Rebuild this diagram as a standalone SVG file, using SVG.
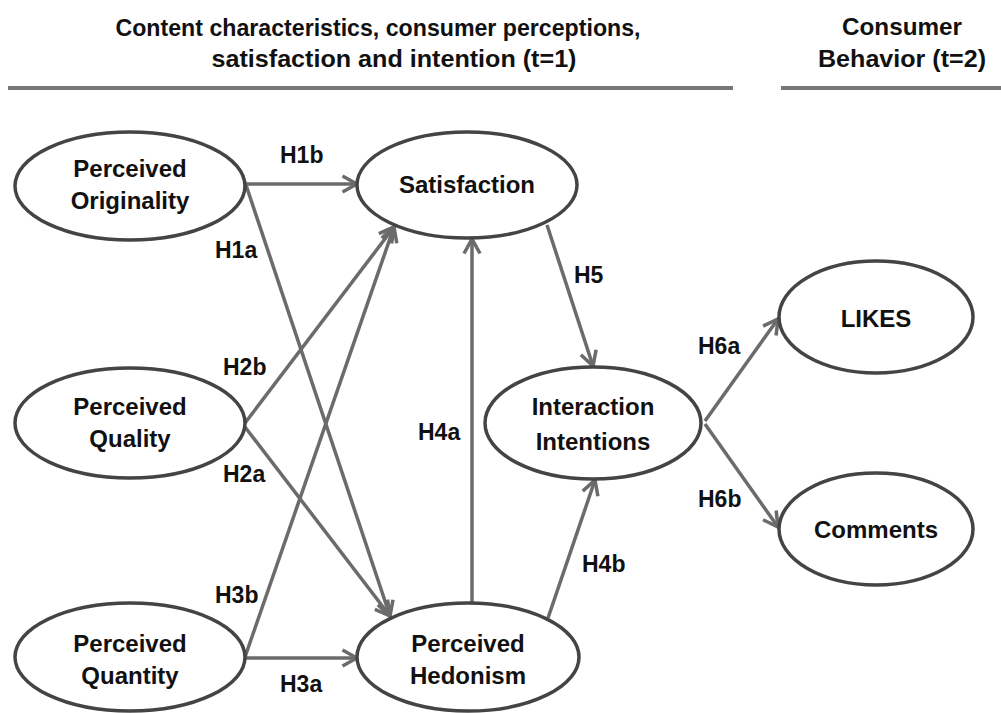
<svg xmlns="http://www.w3.org/2000/svg" width="1001" height="713" viewBox="0 0 1001 713">
<style>
text{font-family:"Liberation Sans",Arial,sans-serif;font-weight:bold;fill:#111}
.hd{font-size:24px;text-anchor:middle}
.nd{font-size:24px;text-anchor:middle}
.lb{font-size:23px}
ellipse{fill:#fff;stroke:#444;stroke-width:3.5}
.c{stroke:#6b6b6b;stroke-width:3.5;fill:none;marker-end:url(#ah)}
.rule{stroke:#777;stroke-width:4}
</style>
<defs>
<marker id="ah" markerUnits="userSpaceOnUse" markerWidth="22" markerHeight="22" viewBox="0 0 22 22" refX="19" refY="11" orient="auto">
<path d="M4.5,3 L19,11 L4.5,19" fill="none" stroke="#6b6b6b" stroke-width="3.5" stroke-linejoin="miter"/>
</marker>
</defs>
<rect width="1001" height="713" fill="#fff"/>
<g id="header">
<text class="hd" x="378" y="36" textLength="525" lengthAdjust="spacingAndGlyphs">Content characteristics, consumer  perceptions,</text>
<text class="hd" x="394" y="67" textLength="365" lengthAdjust="spacingAndGlyphs">satisfaction and intention (t=1)</text>
<text class="hd" x="902" y="35" textLength="120" lengthAdjust="spacingAndGlyphs">Consumer</text>
<text class="hd" x="902" y="67" textLength="168" lengthAdjust="spacingAndGlyphs">Behavior (t=2)</text>
<line class="rule" x1="8" y1="88" x2="733" y2="88"/>
<line class="rule" x1="781" y1="88" x2="1001" y2="88"/>
</g>
<g id="connectors">
<line class="c" x1="246" y1="184" x2="357" y2="184"/>
<line class="c" x1="246" y1="185" x2="390" y2="616"/>
<line class="c" x1="245" y1="427" x2="390" y2="616"/>
<line class="c" x1="245" y1="423" x2="394" y2="227"/>
<line class="c" x1="245" y1="657" x2="394" y2="227"/>
<line class="c" x1="245" y1="658" x2="357" y2="658"/>
<line class="c" x1="472" y1="603" x2="472" y2="239"/>
<line class="c" x1="547" y1="225" x2="593" y2="366"/>
<line class="c" x1="548" y1="618" x2="595" y2="480"/>
<line class="c" x1="705" y1="421" x2="778" y2="319"/>
<line class="c" x1="705" y1="424" x2="778" y2="527"/>
</g>
<g id="labels">
<text class="lb" x="280" y="163">H1b</text>
<text class="lb" x="215" y="258">H1a</text>
<text class="lb" x="223" y="375">H2b</text>
<text class="lb" x="223" y="482">H2a</text>
<text class="lb" x="215" y="603">H3b</text>
<text class="lb" x="280" y="692">H3a</text>
<text class="lb" x="418" y="440">H4a</text>
<text class="lb" x="574" y="283">H5</text>
<text class="lb" x="582" y="572">H4b</text>
<text class="lb" x="698" y="354">H6a</text>
<text class="lb" x="698" y="507">H6b</text>
</g>
<g id="n-originality">
<ellipse cx="130" cy="186" rx="115" ry="54"/>
<text class="nd" x="130" y="177">Perceived</text>
<text class="nd" x="130" y="209">Originality</text>
</g>
<g id="n-quality">
<ellipse cx="130" cy="423" rx="115" ry="55"/>
<text class="nd" x="130" y="415">Perceived</text>
<text class="nd" x="130" y="447">Quality</text>
</g>
<g id="n-quantity">
<ellipse cx="130" cy="657" rx="115" ry="54"/>
<text class="nd" x="130" y="652">Perceived</text>
<text class="nd" x="130" y="684">Quantity</text>
</g>
<g id="n-satisfaction">
<ellipse cx="467" cy="185" rx="110" ry="53"/>
<text class="nd" x="467" y="193">Satisfaction</text>
</g>
<g id="n-hedonism">
<ellipse cx="468" cy="657" rx="111" ry="54"/>
<text class="nd" x="468" y="652">Perceived</text>
<text class="nd" x="468" y="684">Hedonism</text>
</g>
<g id="n-interaction">
<ellipse cx="593" cy="423" rx="108" ry="56"/>
<text class="nd" x="593" y="415">Interaction</text>
<text class="nd" x="593" y="450">Intentions</text>
</g>
<g id="n-likes">
<ellipse cx="876" cy="317" rx="97" ry="56"/>
<text class="nd" x="876" y="327">LIKES</text>
</g>
<g id="n-comments">
<ellipse cx="876" cy="529" rx="97" ry="56"/>
<text class="nd" x="876" y="538">Comments</text>
</g>
</svg>
